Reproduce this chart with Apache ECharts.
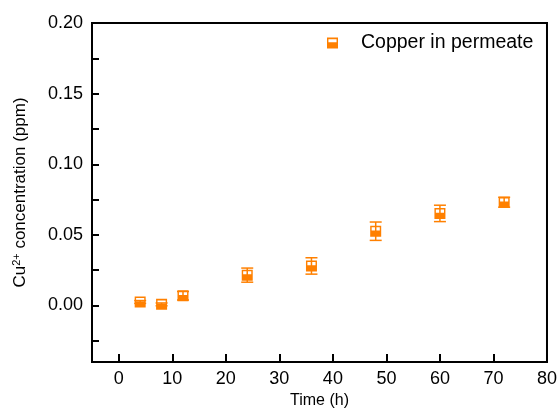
<!DOCTYPE html>
<html>
<head>
<meta charset="utf-8">
<script src="https://cdn.jsdelivr.net/npm/echarts@6/dist/echarts.min.js"></script>
<style>
  html, body { margin: 0; padding: 0; background: #fff; }
  #chart { width: 560px; height: 414px; }
</style>
</head>
<body>
<div id="chart"></div>
<script>
// Sampling times (h)
const hours = [4, 8, 12, 24, 36, 48, 60, 72];
// Cu2+ concentration in permeate (ppm)
const concentration = [0.0025, 0.0008, 0.0069, 0.0215, 0.0280, 0.0526, 0.0652, 0.0731];
// Standard deviation for each sample (ppm)
const deviation = [0.001, 0.001, 0.003, 0.0050, 0.0058, 0.0065, 0.0058, 0.0035];

// Axis ticks and labels
const xTicks = [0, 10, 20, 30, 40, 50, 60, 70, 80];
const yLabels = [0, 0.05, 0.10, 0.15, 0.20];
const yTicks = [-0.025, 0, 0.025, 0.05, 0.075, 0.10, 0.125, 0.15, 0.175, 0.20];

const ORANGE = '#FF8000';
const FONT = '"Liberation Sans", Arial, sans-serif';

// Half-filled square: solid square with a white band cut out of its upper half
const halfSquare = 'path://M0,0 L10,0 L10,10 L0,10 Z M1.3,1.5 L1.3,4.3 L8.7,4.3 L8.7,1.5 Z';

const points = hours.map((h, i) => [h, concentration[i]]);
const errData = hours.map((h, i) => [h, concentration[i] - deviation[i], concentration[i] + deviation[i]]);

const chart = echarts.init(document.getElementById('chart'), null, { renderer: 'canvas' });

chart.setOption({
  animation: false,
  backgroundColor: '#fff',
  textStyle: { fontFamily: FONT },
  grid: {
    left: 92, top: 23, right: 10, bottom: 52,
    show: true, borderColor: '#000', borderWidth: 2, backgroundColor: 'transparent'
  },
  legend: {
    data: ['Copper in permeate'],
    left: 327, top: 33,
    padding: 0,
    itemWidth: 11, itemHeight: 11,
    icon: halfSquare,
    textStyle: { fontFamily: FONT, fontSize: 19.5, color: '#000', padding: [0, 0, 0, 18] }
  },
  xAxis: {
    type: 'value',
    min: -5, max: 80,
    name: 'Time (h)',
    nameLocation: 'middle',
    nameGap: 27,
    nameTextStyle: { fontFamily: FONT, fontSize: 16, color: '#000' },
    axisLine: { show: true, onZero: false, lineStyle: { color: '#000', width: 2 } },
    axisTick: { show: true, inside: true, length: 8, lineStyle: { color: '#000', width: 2 }, customValues: xTicks },
    axisLabel: { fontFamily: FONT, fontSize: 18, color: '#000', margin: 8, customValues: xTicks },
    splitLine: { show: false }
  },
  yAxis: {
    type: 'value',
    min: -0.04, max: 0.2,
    name: '{n|Cu}{s|2+}{n| concentration (ppm)}',
    nameLocation: 'middle',
    nameGap: 62,
    nameRotate: 90,
    nameTextStyle: {
      fontFamily: FONT, color: '#000',
      rich: {
        n: { fontFamily: FONT, fontSize: 17, color: '#000' },
        s: { fontFamily: FONT, fontSize: 11, color: '#000', verticalAlign: 'top', padding: [0, 0, 8, 0] }
      }
    },
    axisLine: { show: true, onZero: false, lineStyle: { color: '#000', width: 2 } },
    axisTick: { show: true, inside: true, length: 7, lineStyle: { color: '#000', width: 2 }, customValues: yTicks },
    axisLabel: {
      fontFamily: FONT, fontSize: 18, color: '#000', margin: 9,
      customValues: yLabels,
      formatter: v => v.toFixed(2)
    },
    splitLine: { show: false }
  },
  series: [
    {
      name: 'Copper in permeate',
      type: 'scatter',
      data: points,
      symbol: halfSquare,
      symbolSize: 11,
      itemStyle: { color: ORANGE, opacity: 1 },
      z: 2
    },
    {
      name: 'error',
      type: 'custom',
      data: errData,
      z: 3,
      renderItem: (params, api) => {
        const x = api.value(0);
        const lo = api.coord([x, api.value(1)]);
        const hi = api.coord([x, api.value(2)]);
        const cap = 6;
        const style = { stroke: ORANGE, lineWidth: 1.5, fill: null };
        return {
          type: 'group',
          children: [
            { type: 'line', shape: { x1: lo[0], y1: lo[1], x2: hi[0], y2: hi[1] }, style },
            { type: 'line', shape: { x1: hi[0] - cap, y1: hi[1], x2: hi[0] + cap, y2: hi[1] }, style },
            { type: 'line', shape: { x1: lo[0] - cap, y1: lo[1], x2: lo[0] + cap, y2: lo[1] }, style }
          ]
        };
      }
    }
  ]
});
</script>
</body>
</html>
